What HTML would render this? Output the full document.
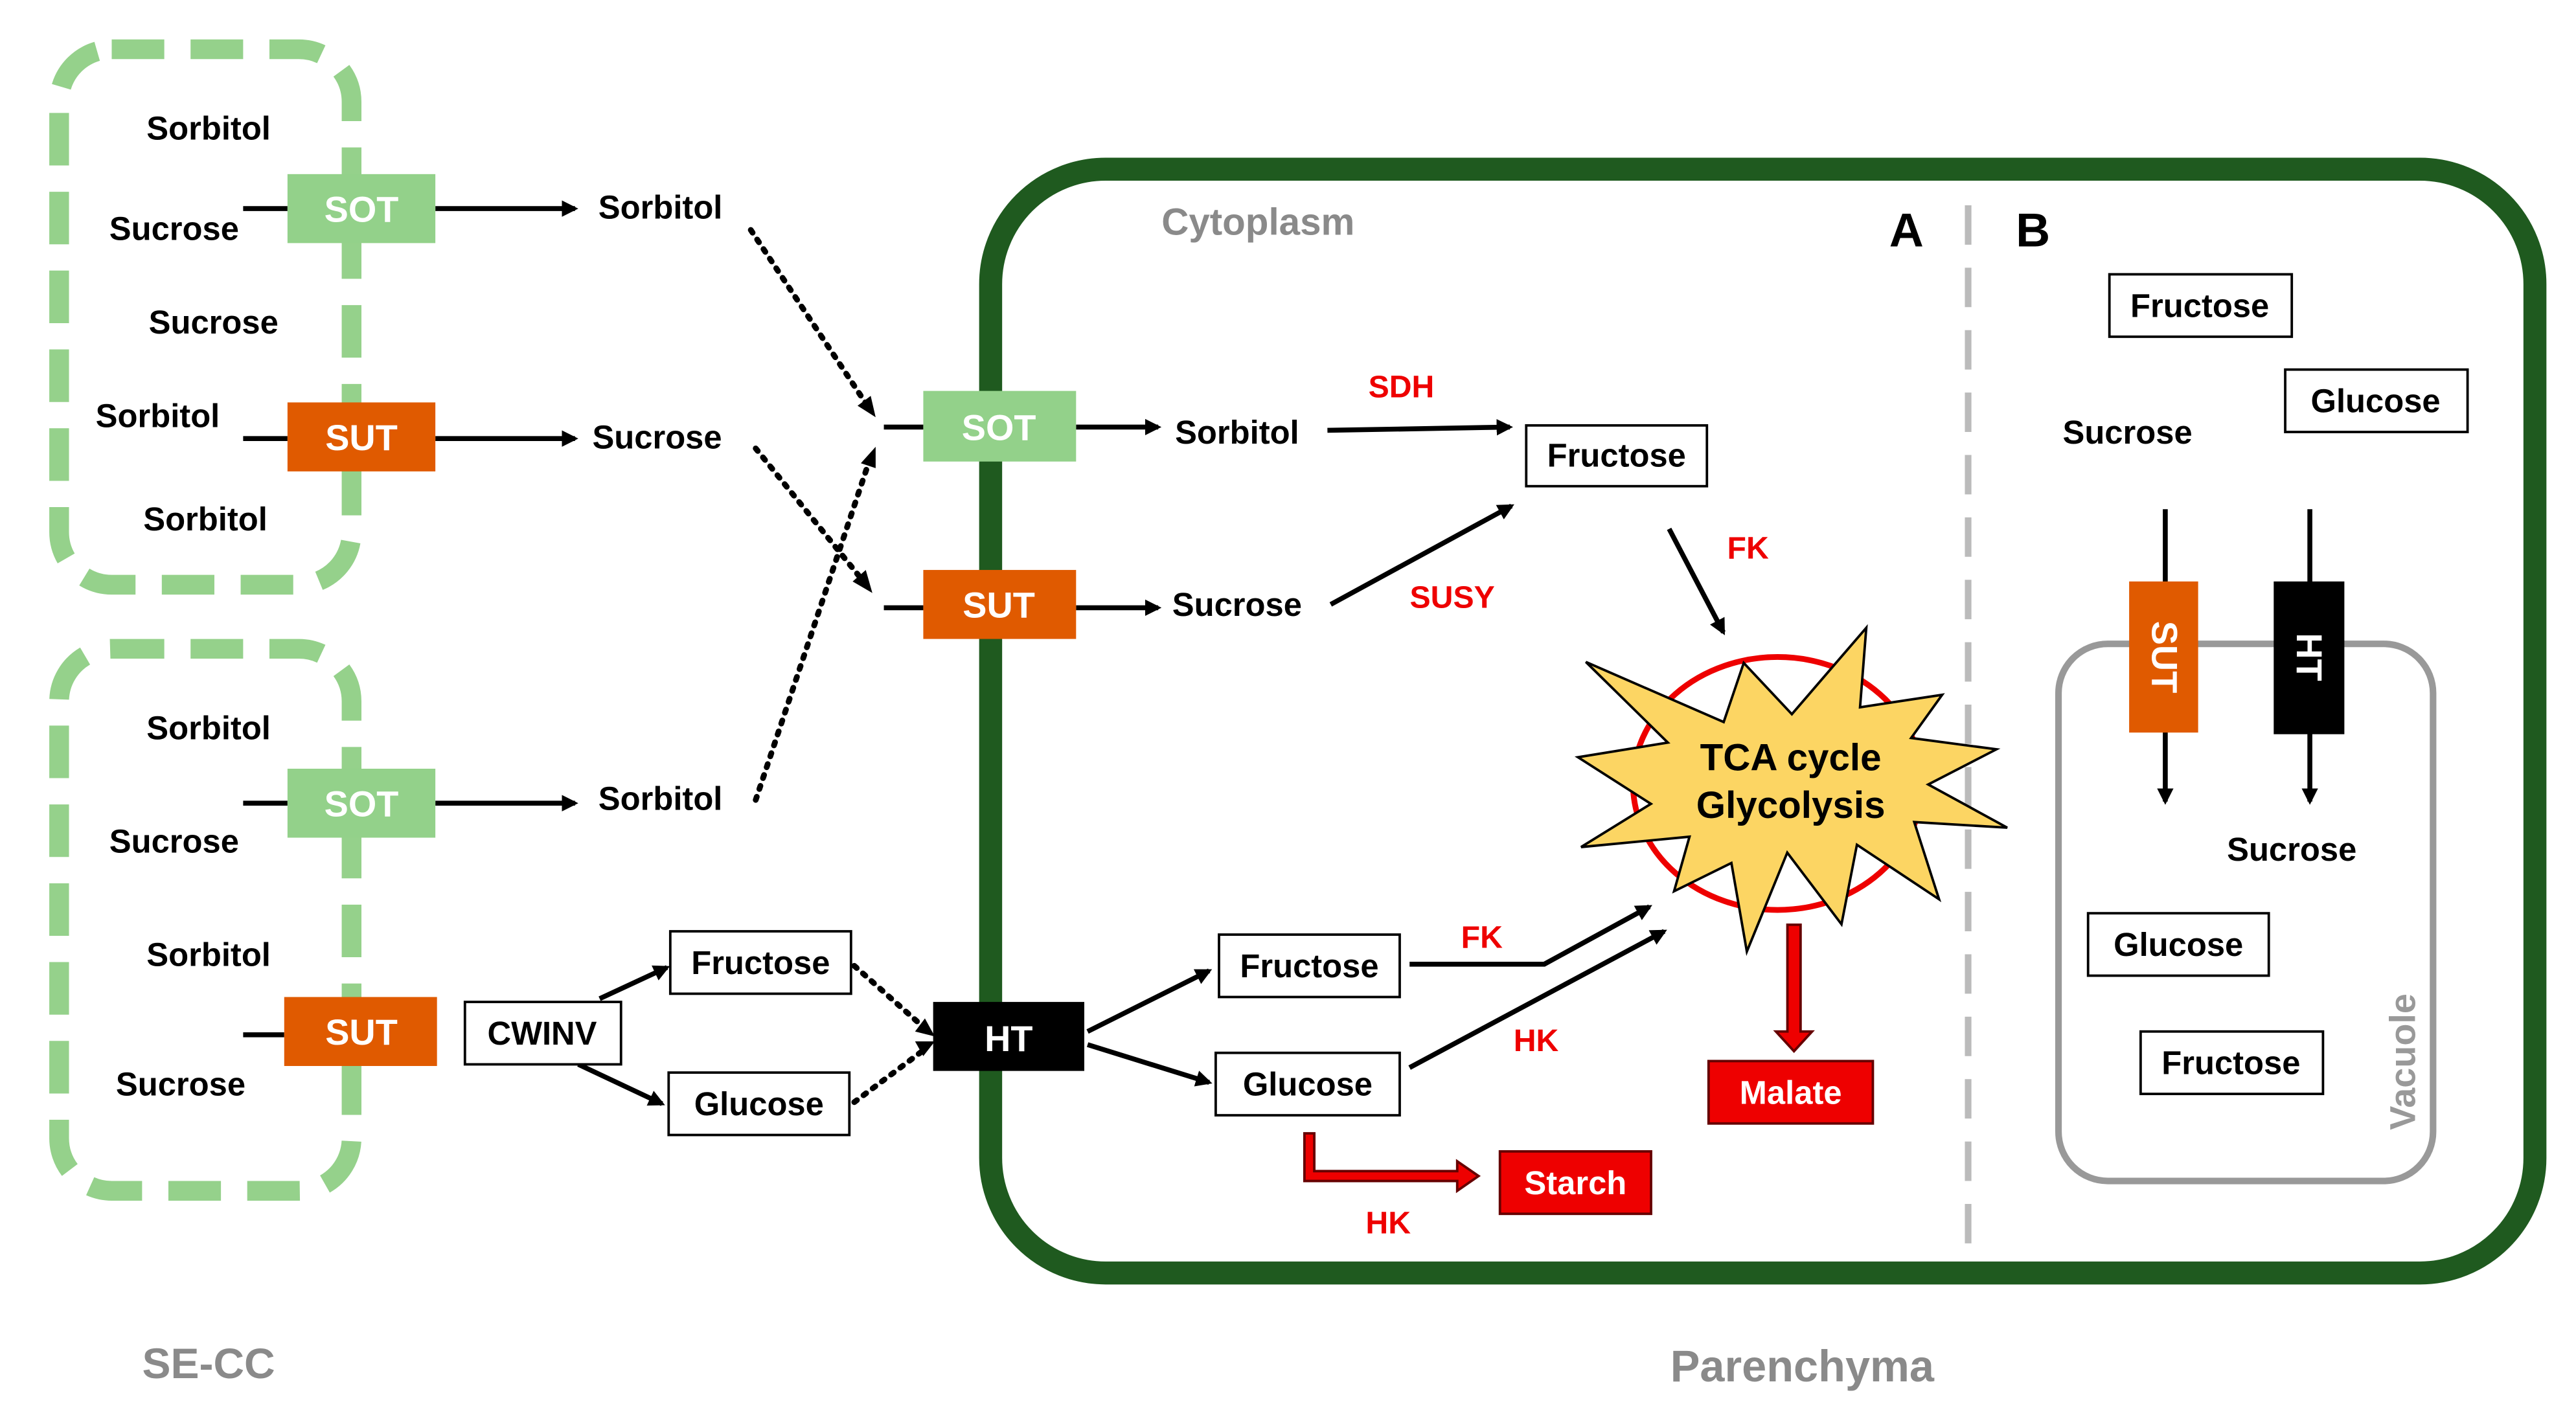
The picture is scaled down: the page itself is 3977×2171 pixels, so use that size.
<!DOCTYPE html>
<html><head><meta charset="utf-8"><style>
html,body{margin:0;padding:0;background:#fff;}
svg{display:block;}
text{font-family:"Liberation Sans",Arial,sans-serif;font-weight:bold;}
</style></head><body>
<svg width="3977" height="2171" viewBox="0 0 1568 856" preserveAspectRatio="none" xmlns="http://www.w3.org/2000/svg">
<defs>
<marker id="ah" markerWidth="10" markerHeight="10" refX="8" refY="5" orient="auto" markerUnits="userSpaceOnUse" viewBox="0 0 10 10">
<path d="M0,0 L10,5 L0,10 z" fill="#000"/></marker>
</defs>
<rect x="36" y="30" width="178" height="326" rx="32" fill="none" stroke="#95d18b" stroke-width="12" stroke-dasharray="32 16"/>
<rect x="36" y="395" width="178" height="330" rx="32" fill="none" stroke="#95d18b" stroke-width="12" stroke-dasharray="32 16"/>
<rect x="603" y="103" width="940" height="672" rx="70" fill="none" stroke="#1f5a1f" stroke-width="14"/>
<line x1="1198" y1="125" x2="1198" y2="762" stroke="#bbb" stroke-width="4" stroke-dasharray="24 14"/>
<rect x="1253" y="392" width="228" height="327" rx="30" fill="none" stroke="#999" stroke-width="4"/>

<g font-size="20" fill="#000">
<text x="127" y="85" text-anchor="middle">Sorbitol</text>
<text x="106" y="146" text-anchor="middle">Sucrose</text>
<text x="130" y="203" text-anchor="middle">Sucrose</text>
<text x="96" y="260" text-anchor="middle">Sorbitol</text>
<text x="125" y="323" text-anchor="middle">Sorbitol</text>
<text x="127" y="450" text-anchor="middle">Sorbitol</text>
<text x="106" y="519" text-anchor="middle">Sucrose</text>
<text x="127" y="588" text-anchor="middle">Sorbitol</text>
<text x="110" y="667" text-anchor="middle">Sucrose</text>
<text x="402" y="133" text-anchor="middle">Sorbitol</text>
<text x="400" y="273" text-anchor="middle">Sucrose</text>
<text x="402" y="493" text-anchor="middle">Sorbitol</text>
<text x="753" y="270" text-anchor="middle">Sorbitol</text>
<text x="753" y="375" text-anchor="middle">Sucrose</text>
<text x="1295" y="270" text-anchor="middle">Sucrose</text>
<text x="1395" y="524" text-anchor="middle">Sucrose</text>
</g>

<g stroke="#000" stroke-width="3" fill="none">
<line x1="148" y1="127" x2="175" y2="127"/><line x1="265" y1="127" x2="350" y2="127" marker-end="url(#ah)"/>
<line x1="148" y1="267" x2="175" y2="267"/><line x1="265" y1="267" x2="350" y2="267" marker-end="url(#ah)"/>
<line x1="148" y1="489" x2="175" y2="489"/><line x1="265" y1="489" x2="350" y2="489" marker-end="url(#ah)"/>
<line x1="148" y1="630" x2="173" y2="630"/>
<line x1="365" y1="608" x2="406" y2="589" marker-end="url(#ah)"/>
<line x1="352" y1="648" x2="403" y2="672" marker-end="url(#ah)"/>
<line x1="538" y1="260" x2="562" y2="260"/><line x1="655" y1="260" x2="705" y2="260" marker-end="url(#ah)"/>
<line x1="538" y1="370" x2="562" y2="370"/><line x1="655" y1="370" x2="705" y2="370" marker-end="url(#ah)"/>
<line x1="808" y1="262" x2="919" y2="260" marker-end="url(#ah)"/>
<line x1="810" y1="368" x2="920" y2="308" marker-end="url(#ah)"/>
<line x1="1016" y1="322" x2="1049" y2="385" marker-end="url(#ah)"/>
<line x1="662" y1="628" x2="736" y2="591" marker-end="url(#ah)"/>
<line x1="662" y1="636" x2="736" y2="659" marker-end="url(#ah)"/>
<polyline points="858,587 940,587 1004,552" marker-end="url(#ah)"/>
<line x1="858" y1="650" x2="1013" y2="567" marker-end="url(#ah)"/>
<line x1="1318" y1="310" x2="1318" y2="488" marker-end="url(#ah)"/>
<line x1="1406" y1="310" x2="1406" y2="488" marker-end="url(#ah)"/>
</g>
<g stroke="#000" stroke-width="3.5" fill="none" stroke-dasharray="2 5" stroke-linecap="round">
<line x1="457" y1="140" x2="530" y2="250"/>
<line x1="460" y1="273" x2="528" y2="357"/>
<line x1="460" y1="487" x2="530" y2="278"/>
<line x1="520" y1="588" x2="564" y2="627"/>
<line x1="520" y1="671" x2="564" y2="638"/>
</g>
<g fill="#000">
<path d="M533,254 L522,247 L530,241 z"/>
<path d="M531,361 L519,354 L527,347 z"/>
<path d="M533,272 L533,285 L524,282 z"/>
<path d="M569,631 L557,628 L563,620 z"/>
<path d="M569,634 L562,643 L557,634 z"/>
</g>

<g font-size="22" fill="#fff" text-anchor="middle">
<rect x="175" y="106" width="90" height="42" fill="#93d18a"/><text x="220" y="135">SOT</text>
<rect x="175" y="245" width="90" height="42" fill="#e05a00"/><text x="220" y="274">SUT</text>
<rect x="175" y="468" width="90" height="42" fill="#93d18a"/><text x="220" y="497">SOT</text>
<rect x="173" y="607" width="93" height="42" fill="#e05a00"/><text x="220" y="636">SUT</text>
<rect x="562" y="238" width="93" height="43" fill="#93d18a"/><text x="608" y="268">SOT</text>
<rect x="562" y="347" width="93" height="42" fill="#e05a00"/><text x="608" y="376">SUT</text>
<rect x="568" y="610" width="92" height="42" fill="#000"/><text x="614" y="640">HT</text>
<rect x="1296" y="354" width="42" height="92" fill="#e05a00"/>
<rect x="1384" y="354" width="43" height="93" fill="#000"/>
<text x="0" y="0" transform="translate(1310,400) rotate(90)">SUT</text>
<text x="0" y="0" transform="translate(1398,400) rotate(90)">HT</text>
</g>

<g fill="#fff" stroke="#000" stroke-width="1.5">
<rect x="283" y="610" width="95" height="38"/>
<rect x="408" y="567" width="110" height="38"/>
<rect x="407" y="653" width="110" height="38"/>
<rect x="929" y="259" width="110" height="37"/>
<rect x="742" y="569" width="110" height="38"/>
<rect x="740" y="641" width="112" height="38"/>
<rect x="1284" y="167" width="111" height="38"/>
<rect x="1391" y="225" width="111" height="38"/>
<rect x="1271" y="556" width="110" height="38"/>
<rect x="1303" y="628" width="111" height="38"/>
</g>
<g font-size="20" fill="#000" text-anchor="middle">
<text x="330" y="636">CWINV</text>
<text x="463" y="593">Fructose</text>
<text x="462" y="679">Glucose</text>
<text x="984" y="284">Fructose</text>
<text x="797" y="595">Fructose</text>
<text x="796" y="667">Glucose</text>
<text x="1339" y="193">Fructose</text>
<text x="1446" y="251">Glucose</text>
<text x="1326" y="582">Glucose</text>
<text x="1358" y="654">Fructose</text>
</g>

<ellipse cx="1082" cy="477" rx="88" ry="77" fill="none" stroke="#e00" stroke-width="3.5"/>
<polygon points="965.3,403 1049.2,439.6 1061.4,403.6 1090.7,434.8 1136,382.2 1132.2,430.6 1182.2,423 1163.3,449.3 1215.2,456.2 1173.7,477.6 1221.8,503.9 1165.2,500.5 1180.3,547.5 1130.3,514.3 1120.9,562.7 1087.9,519.1 1063.3,579.3 1053.9,525.4 1019,542.6 1028.4,509.4 962.4,515.7 1004.9,489.4 960.5,461 1015.2,452.1" fill="#fcd563" stroke="#000" stroke-width="1.5"/>
<text x="1090" y="469" font-size="23" text-anchor="middle">TCA cycle</text>
<text x="1090" y="498" font-size="23" text-anchor="middle">Glycolysis</text>

<path d="M1088,563 L1096,563 L1096,628 L1103,628 L1092,640 L1081,628 L1088,628 z" fill="#e00" stroke="#600" stroke-width="1.5"/>
<path d="M794,690 L800,690 L800,713 L887,713 L887,707 L900,716 L887,725 L887,719 L794,719 z" fill="#e00" stroke="#600" stroke-width="1.5"/>
<rect x="1040" y="646" width="100" height="38" fill="#e00" stroke="#600" stroke-width="1.5"/>
<rect x="913" y="701" width="92" height="38" fill="#e00" stroke="#600" stroke-width="1.5"/>
<g font-size="20" fill="#fff" text-anchor="middle">
<text x="1090" y="672">Malate</text>
<text x="959" y="727">Starch</text>
</g>

<g font-size="19" fill="#e00" text-anchor="middle">
<text x="853" y="242">SDH</text>
<text x="884" y="370">SUSY</text>
<text x="1064" y="340">FK</text>
<text x="902" y="577">FK</text>
<text x="935" y="640">HK</text>
<text x="845" y="751">HK</text>
</g>

<text x="707" y="143" font-size="23" fill="#8a8a8a">Cytoplasm</text>
<text x="1150" y="150" font-size="29" fill="#000">A</text>
<text x="1227" y="150" font-size="29" fill="#000">B</text>
<text x="0" y="0" font-size="22" fill="#999" transform="translate(1470,688) rotate(-90)">Vacuole</text>
<text x="127" y="839" font-size="26" fill="#8a8a8a" text-anchor="middle">SE-CC</text>
<text x="1097" y="841" font-size="27" fill="#8a8a8a" text-anchor="middle">Parenchyma</text>
</svg>
</body></html>
